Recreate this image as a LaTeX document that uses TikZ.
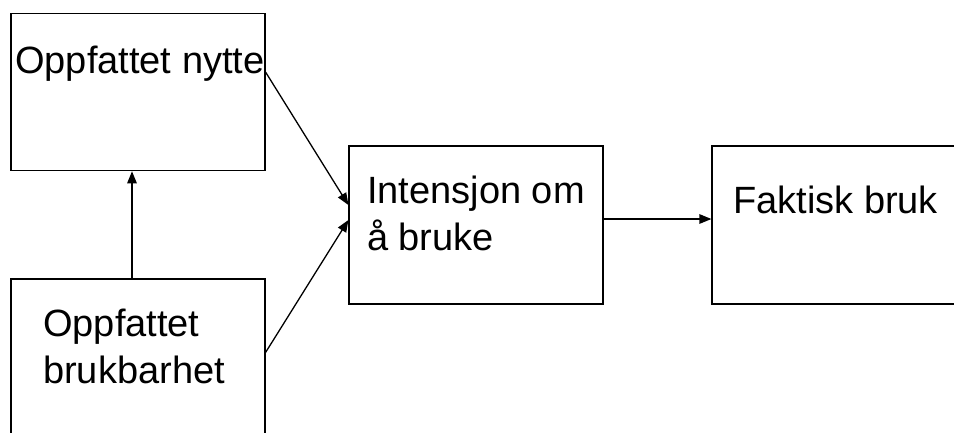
\documentclass[tikz,border=0pt]{standalone}
\usepackage{fontspec}
\setmainfont{Liberation Sans}
\usetikzlibrary{arrows.meta,calc}
\begin{document}
\begin{tikzpicture}[x=1pt,y=-1pt,
  box/.style={draw=black,line width=1.2pt,minimum width=254pt,minimum height=157pt,inner sep=0pt},
  label/.style={anchor=base west,inner sep=0pt,align=left,font=\fontsize{38}{46.5}\selectfont},
  link/.style={line width=1.3pt,-{Triangle[length=12pt,width=9.5pt]}}]
\useasboundingbox (0,0) rectangle (954,432);
\clip (0,0) rectangle (954,432);
% boxes
\node[box] (b1) at (138,92.2) {};
\node[box,minimum height=166pt] (b2) at (138,362) {};
\node[box,minimum height=158pt] (b3) at (476,225) {};
\node[box,minimum width=258pt,minimum height=158pt] (b4) at (841,225) {};
% texts (base anchor sits on the last line)
\node[label] (t1) at (15,73) {Oppfattet nytte};
\node[label] (t2) at (43,383) {Oppfattet\\brukbarhet};
\node[label] (t3) at (367,250) {Intensjon om\\å bruke};
\node[label] (t4) at (733,213) {Faktisk bruk};
% connectors
\draw[link] ($(b2.north)+(-6,0)$) -- ($(b1.south)+(-6,0)$);
\draw[link] ($(b1.north east)+(0,59)$) -- ($(b3.west)+(0,-20)$);
\draw[link] ($(b2.north east)+(0,74)$) -- ($(b3.west)+(0,-5)$);
\draw[link] ($(b3.east)+(0,-6)$) -- ($(b4.west)+(0,-6)$);
\end{tikzpicture}
\end{document}
